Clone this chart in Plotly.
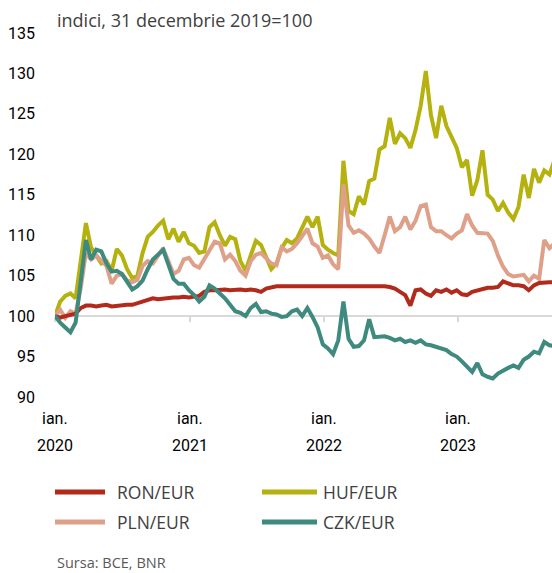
import pandas as pd
import plotly.graph_objects as go

# Exchange-rate indices, 31 Dec 2019 = 100, sampled every 14 days from 1 Jan 2020
ron = [100.0, 99.8, 100.0, 100.2, 100.3, 101.0, 101.3, 101.3, 101.2, 101.3,
       101.4, 101.2, 101.3, 101.3, 101.4, 101.4, 101.6, 101.9, 102.1, 102.2,
       102.1, 102.2, 102.2, 102.3, 102.3, 102.4, 102.3, 102.4, 102.5, 103.0,
       103.2, 103.2, 103.3, 103.3, 103.2, 103.3, 103.3, 103.2, 103.3, 103.2,
       103.0, 103.4, 103.6, 103.7, 103.7, 103.7, 103.7, 103.7, 103.8, 103.8,
       103.7, 103.7, 103.8, 103.7, 103.8, 103.7, 103.8, 103.7, 103.7, 103.8,
       103.7, 103.7, 103.7, 103.8, 103.7, 103.6, 103.4, 103.0, 102.6, 101.3,
       103.2, 103.3, 102.8, 102.5, 103.2, 103.0, 103.3, 102.9, 103.2, 102.7,
       102.6, 103.0, 103.2, 103.4, 103.5, 103.5, 103.6, 104.3, 104.0, 103.8,
       103.8, 103.7, 103.2, 103.8, 104.1, 104.2, 104.2, 104.2]

huf = [100.0, 101.8, 102.5, 102.8, 102.2, 106.5, 111.5, 108.5, 107.5, 106.5,
       106.8, 105.6, 108.3, 107.5, 105.8, 104.7, 105.0, 107.8, 109.8, 110.4,
       111.2, 111.8, 109.5, 110.8, 109.2, 110.4, 109.0, 108.7, 107.8, 108.0,
       111.0, 111.6, 110.0, 108.7, 109.8, 109.5, 106.8, 105.6, 107.5, 109.3,
       108.8, 107.2, 105.8, 106.5, 108.4, 109.4, 109.0, 109.6, 111.0, 112.3,
       111.0, 112.3, 108.8, 108.2, 107.8, 107.5, 119.2, 113.0, 112.6, 114.8,
       113.8, 116.7, 117.0, 120.6, 121.0, 124.5, 121.3, 122.6, 122.0, 120.8,
       123.0, 126.0, 130.3, 124.8, 122.0, 126.0, 123.5, 122.0, 120.8, 118.4,
       119.3, 114.9, 116.8, 120.5, 115.0, 114.4, 113.0, 114.0, 112.8, 112.0,
       113.5, 117.5, 114.6, 118.2, 116.5, 118.0, 117.5, 119.3]

pln = [100.0, 100.8, 99.8, 100.6, 100.3, 103.5, 107.8, 107.0, 107.5, 106.8,
       106.2, 104.0, 105.0, 105.2, 104.4, 104.2, 104.5, 106.2, 106.8, 106.5,
       107.5, 108.4, 106.8, 105.2, 105.6, 107.0, 107.2, 106.3, 106.0, 107.0,
       108.0, 109.2, 109.0, 107.0, 107.6, 106.8, 105.6, 105.0, 106.8, 107.6,
       107.8, 107.2, 106.5, 106.3, 108.5, 108.0, 108.3, 109.0, 110.0, 110.8,
       109.0, 108.6, 107.2, 107.5, 106.4, 105.8, 116.3, 111.2, 110.3, 110.6,
       110.2, 109.6, 108.6, 107.8, 110.0, 112.3, 110.5, 111.0, 112.3, 110.7,
       111.8, 113.6, 113.8, 111.0, 110.5, 110.5, 110.0, 109.6, 110.2, 110.6,
       112.6, 111.2, 110.3, 110.3, 110.2, 109.3, 107.5, 106.1, 105.2, 104.9,
       105.0, 105.1, 104.3, 105.0, 104.6, 109.4, 108.4, 109.0]

czk = [100.0, 99.2, 98.6, 98.0, 99.2, 104.5, 109.4, 107.0, 108.2, 108.0,
       106.5, 105.5, 105.6, 105.2, 104.2, 103.3, 103.7, 104.4, 105.8, 107.0,
       107.6, 108.2, 106.4, 104.6, 104.0, 104.0, 103.2, 102.6, 101.8, 102.4,
       103.8, 103.4, 102.8, 102.2, 101.4, 100.6, 100.4, 100.0, 101.0, 101.5,
       100.5, 100.6, 100.3, 100.2, 99.9, 100.0, 100.6, 100.8, 100.0, 101.0,
       99.9, 98.6, 96.5, 96.0, 95.3, 97.0, 101.8, 97.2, 96.2, 96.3,
       97.0, 99.6, 97.4, 97.4, 97.5, 97.3, 97.0, 97.2, 96.8, 97.0,
       96.7, 97.0, 96.5, 96.4, 96.2, 95.9, 95.8, 95.3, 95.0, 94.4,
       93.8, 93.1, 94.2, 92.8, 92.5, 92.3, 92.9, 93.3, 93.6, 93.9,
       93.6, 94.6, 95.0, 95.6, 95.4, 96.8, 96.4, 96.3]

series_names = ["RON/EUR", "HUF/EUR", "PLN/EUR", "CZK/EUR"]
year_ticks = ["2020-01-01", "2021-01-01", "2022-01-01", "2023-01-01"]
year_labels = ["2020", "2021", "2022", "2023"]
month_label = "ian."
y_ticks = [90, 95, 100, 105, 110, 115, 120, 125, 130, 135]

colors = {"RON/EUR": "#B12A1C", "HUF/EUR": "#B5B20F",
          "PLN/EUR": "#DFA08A", "CZK/EUR": "#3E8A7F"}
values = {"RON/EUR": ron, "HUF/EUR": huf, "PLN/EUR": pln, "CZK/EUR": czk}

fig = go.Figure()
for name in ["HUF/EUR", "PLN/EUR", "RON/EUR", "CZK/EUR"]:
    vals = values[name]
    dates = pd.date_range("2020-01-01", periods=len(vals), freq="14D")
    fig.add_trace(go.Scatter(x=dates, y=vals, mode="lines", name=name,
                             line=dict(color=colors[name], width=4),
                             showlegend=False, hoverinfo="skip"))

W, H = 552, 573
PLOT_L, PLOT_R, PLOT_T, PLOT_B = 55, 552, 33, 397   # screen pixels of the plot area
ML, MR, MT, MB = PLOT_L, W - PLOT_R, PLOT_T, H - PLOT_B
pw, ph = PLOT_R - PLOT_L, PLOT_B - PLOT_T

def px_x(x):
    return (x - PLOT_L) / pw

def px_y(y):
    return (PLOT_B - y) / ph

cond = "Roboto, Noto Sans, sans-serif"
plain = "Open Sans, Noto Sans, sans-serif"

annotations = []
for d, lab in zip(year_ticks, year_labels):
    annotations.append(dict(x=d, xref="x", y=px_y(418), yref="paper", text=month_label,
                            showarrow=False, xanchor="center", yanchor="middle",
                            font=dict(family=cond, size=16, color="#000000")))
    annotations.append(dict(x=d, xref="x", y=px_y(445), yref="paper", text=lab,
                            showarrow=False, xanchor="center", yanchor="middle",
                            font=dict(family=cond, size=16, color="#000000")))

annotations.append(dict(x=px_x(55), xref="paper", y=px_y(20), yref="paper",
                        text="indici, 31 decembrie 2019=100", showarrow=False,
                        xanchor="left", yanchor="middle",
                        font=dict(family=plain, size=18, color="#404040")))
annotations.append(dict(x=px_x(55), xref="paper", y=px_y(562), yref="paper",
                        text="Sursa: BCE, BNR", showarrow=False,
                        xanchor="left", yanchor="middle",
                        font=dict(family=plain, size=14.5, color="#595959")))

# legend (two columns, two rows)
shapes = []
legend_pos = {"RON/EUR": (55, 105, 115, 492), "HUF/EUR": (262, 317, 321, 492),
              "PLN/EUR": (55, 105, 115, 522), "CZK/EUR": (262, 317, 321, 522)}
for name in series_names:
    x0, x1, xt, yy = legend_pos[name]
    shapes.append(dict(type="line", xref="paper", yref="paper",
                       x0=px_x(x0), x1=px_x(x1), y0=px_y(yy), y1=px_y(yy),
                       line=dict(color=colors[name], width=5)))
    annotations.append(dict(x=px_x(xt), xref="paper", y=px_y(yy), yref="paper",
                            text=name, showarrow=False, xanchor="left", yanchor="middle",
                            font=dict(family=plain, size=17.5, color="#404040")))

fig.update_layout(
    width=W, height=H,
    margin=dict(l=ML, r=MR, t=MT, b=MB, pad=0),
    paper_bgcolor="white", plot_bgcolor="white",
    xaxis=dict(type="date", range=["2020-01-01", "2023-09-13"],
               anchor="free", position=(100 - 90) / (135 - 90),
               showline=True, linecolor="#D9D9D9", linewidth=2,
               ticks="outside", ticklen=5, tickwidth=2, tickcolor="#D9D9D9",
               tickvals=year_ticks, showticklabels=False,
               showgrid=False, zeroline=False, layer="below traces"),
    yaxis=dict(range=[90, 135], tickvals=y_ticks, showgrid=False, zeroline=False,
               showline=False, ticks="", ticklabelstandoff=19,
               tickfont=dict(family=cond, size=16, color="#000000")),
    annotations=annotations, shapes=shapes,
)

fig.write_html("out.html",
               config={"displayModeBar": False, "staticPlot": True},
               post_script="document.body.style.margin='0px';"
                           "document.documentElement.style.overflow='hidden';")
